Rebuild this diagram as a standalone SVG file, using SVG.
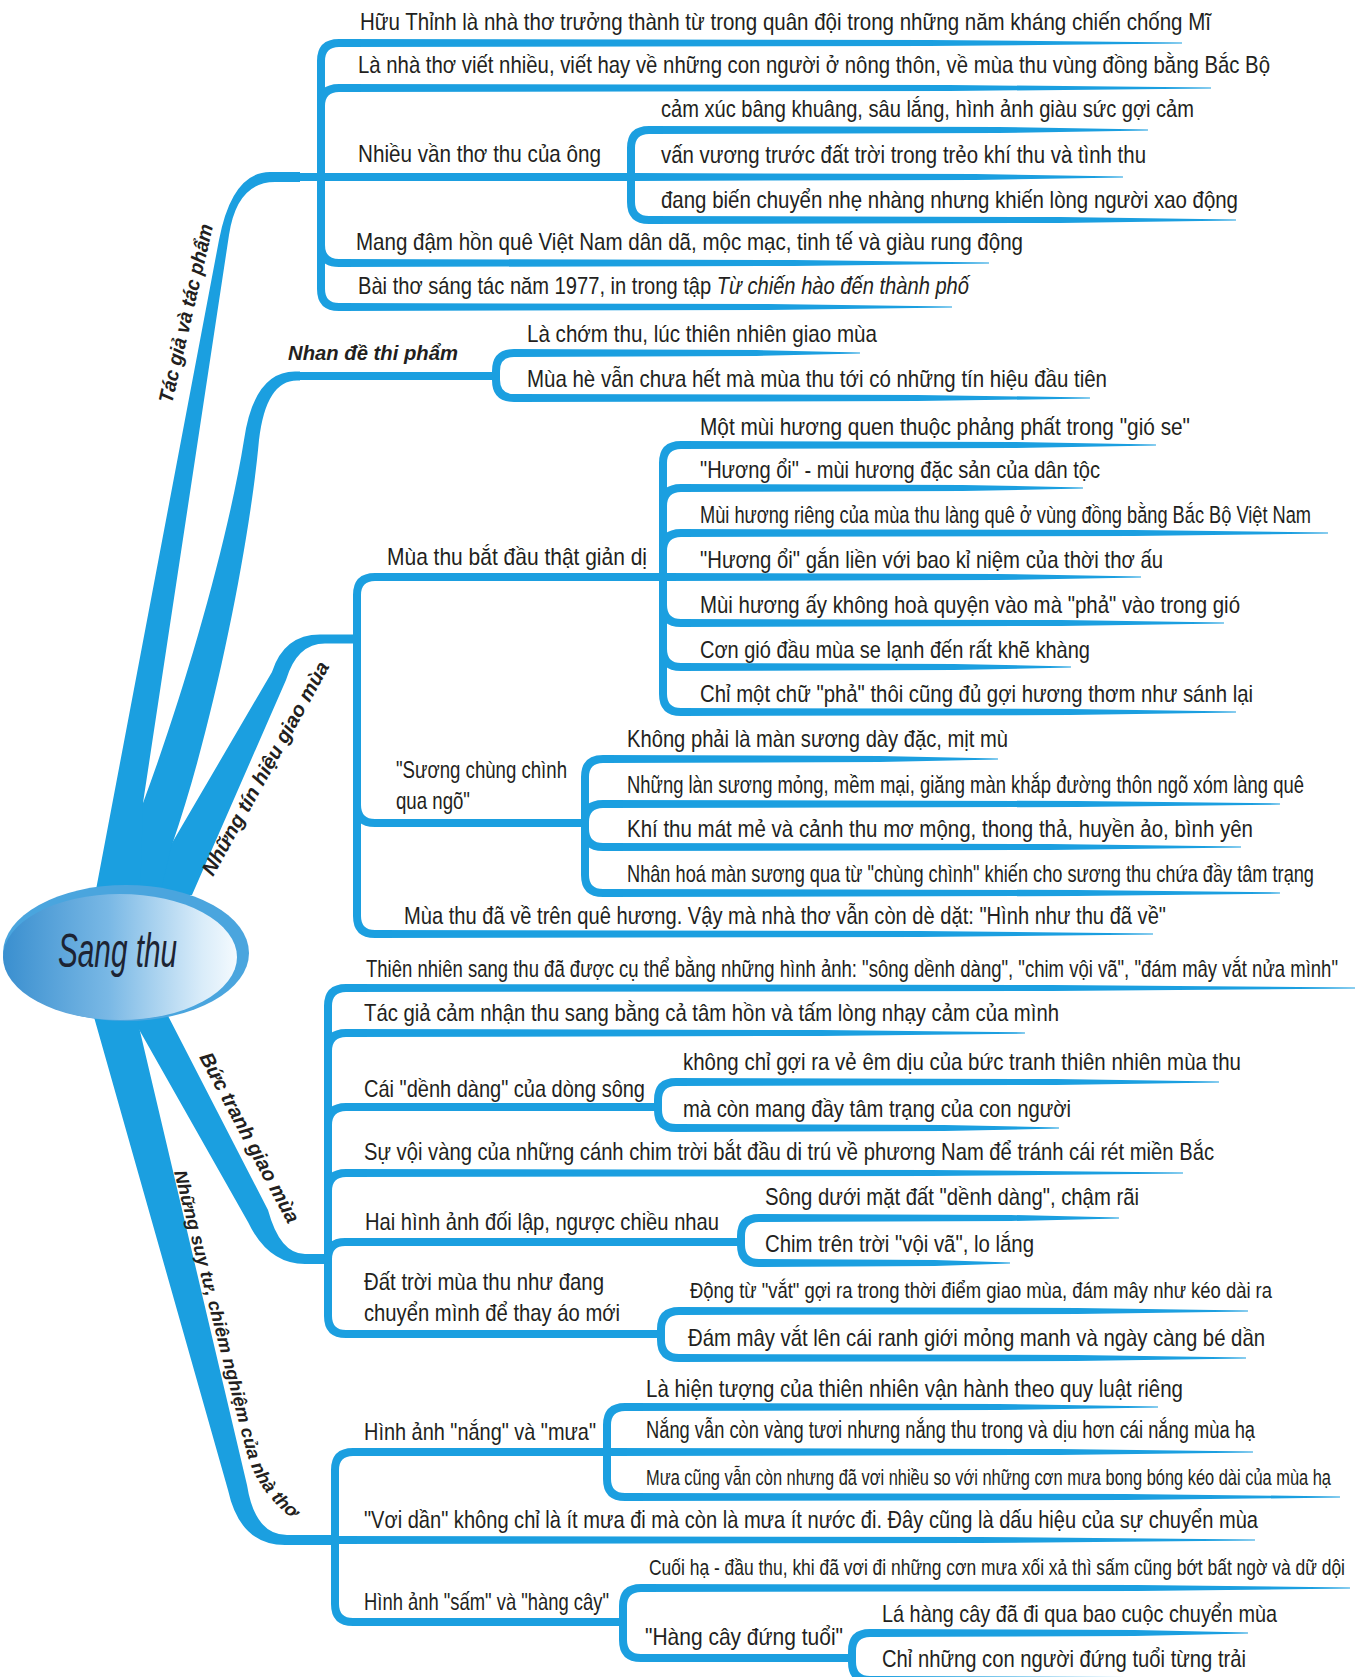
<svg xmlns="http://www.w3.org/2000/svg" width="1361" height="1677" viewBox="0 0 1361 1677">
<defs>
<style>
.t{font-family:'Liberation Sans',Arial,sans-serif;font-size:20px;fill:#231f20}
.f195{font-size:19.5px}
.f19{font-size:19px}
.f185{font-size:18.5px}
.f18{font-size:18px}
.f175{font-size:17.5px}
.f17{font-size:17px}
.f165{font-size:16.5px}
.lb{font-family:'Liberation Sans',Arial,sans-serif;font-size:18px;font-weight:bold;font-style:italic;fill:#231f20}
.ct{font-family:'Liberation Sans',Arial,sans-serif;font-size:38px;font-style:italic;fill:#1d2433}
.br{fill:none;stroke:#1b9fe0;stroke-width:8}
.bn{fill:#1b9fe0}
.ul{fill:#1b9fe0}
</style>
<path id="tp" d="M0,-4 L0.7,-3 L1,-0.6 L1,0.6 L0.7,3 L0,4 Z"/>
<linearGradient id="eg" x1="0" y1="0" x2="1" y2="0">
<stop offset="0" stop-color="#3a8fcf"/>
<stop offset="0.45" stop-color="#79b8e5"/>
<stop offset="0.85" stop-color="#d9ecf9"/>
<stop offset="1" stop-color="#f4fafe"/>
</linearGradient>
</defs>
<rect width="1361" height="1677" fill="#ffffff"/>

<g id="connectors">
<g id="branches" class="bn">
<path d="M95,895 L219,240 Q232,172 270,172 H300 V182 H275 Q237,182 229,235 L143,803 L150,900 Z"/>
<path d="M140,900 L143,803 C185,690 228,540 244,440 Q254,371.5 295,371.5 H300 V380.5 H297 Q266,380.5 259,440 C250,540 215,720 172,845 L180,900 Z"/>
<path d="M172,843 L272,672 Q284,634.5 320,634.5 H357 V643.5 H325 Q297,643.5 286,680 L192,895 L160,895 Z"/>
<path d="M128,1010 L248,1222 Q268,1264 305,1264 H328 V1254 H305 Q280,1254 268,1210 L165,1010 Z"/>
<path d="M92,1010 L228,1490 Q240,1545 285,1545 H335 V1535 H287 Q255,1535 247,1485 L135,1010 Z"/>
</g>
<g id="brackets" class="br">
<path d="M295,177 H631"/>
<path d="M321,177 V61 Q321,43 339,43"/>
<path d="M321,177 V106 Q321,88 339,88"/>
<path d="M321,177 V245 Q321,263 339,263"/>
<path d="M321,177 V289 Q321,307 339,307"/>
<path d="M631,177 V148 Q631,130 649,130"/>
<path d="M631,177 V202 Q631,220 649,220"/>
<path d="M295,376 H496"/>
<path d="M496,376 V371 Q496,353 514,353"/>
<path d="M496,376 V380 Q496,398 514,398"/>
<path d="M357,639 V595 Q357,577 375,577 H663"/>
<path d="M357,639 V805 Q357,823 375,823 H585"/>
<path d="M357,639 V916 Q357,934 375,934"/>
<path d="M663,577 V463 Q663,445 681,445"/>
<path d="M663,577 V506 Q663,488 681,488"/>
<path d="M663,577 V551 Q663,533 681,533"/>
<path d="M663,577 V605 Q663,623 681,623"/>
<path d="M663,577 V649 Q663,667 681,667"/>
<path d="M663,577 V694 Q663,712 681,712"/>
<path d="M585,823 V777 Q585,759 603,759"/>
<path d="M585,823 V822 Q585,804 603,804"/>
<path d="M585,823 V829 Q585,847 603,847"/>
<path d="M585,823 V875 Q585,893 603,893"/>
<path d="M328,1259 V1006 Q328,988 346,988"/>
<path d="M328,1259 V1051 Q328,1033 346,1033"/>
<path d="M328,1259 V1125 Q328,1107 346,1107 H658"/>
<path d="M328,1259 V1191 Q328,1173 346,1173"/>
<path d="M328,1259 Q328,1242 345,1242 H741"/>
<path d="M328,1259 V1316 Q328,1334 346,1334 H661"/>
<path d="M658,1107 V1100 Q658,1082 676,1082"/>
<path d="M658,1107 V1110 Q658,1128 676,1128"/>
<path d="M741,1242 V1236 Q741,1218 759,1218"/>
<path d="M741,1242 V1245 Q741,1263 759,1263"/>
<path d="M661,1334 V1329 Q661,1311 679,1311"/>
<path d="M661,1334 V1340 Q661,1358 679,1358"/>
<path d="M335,1540 V1470 Q335,1452 353,1452 H607"/>
<path d="M335,1540 V1604 Q335,1622 353,1622 H623"/>
<path d="M607,1452 V1425 Q607,1407 625,1407"/>
<path d="M607,1452 V1479 Q607,1497 625,1497"/>
<path d="M623,1622 V1606 Q623,1588 641,1588"/>
<path d="M623,1622 V1640 Q623,1658 641,1658 H852"/>
<path d="M852,1658 V1651 Q852,1633 870,1633"/>
<path d="M852,1658 V1662 Q852,1680 870,1680"/>
</g>
<g id="underlines" class="ul">
<use href="#tp" transform="translate(339,43) scale(843,1)"/>
<use href="#tp" transform="translate(339,88) scale(872,1)"/>
<use href="#tp" transform="translate(339,263) scale(650,1)"/>
<use href="#tp" transform="translate(339,307) scale(613,1)"/>
<use href="#tp" transform="translate(649,130) scale(499,1)"/>
<use href="#tp" transform="translate(631,177) scale(492,1)"/>
<use href="#tp" transform="translate(649,220) scale(587,1)"/>
<use href="#tp" transform="translate(514,353) scale(346,1)"/>
<use href="#tp" transform="translate(514,398) scale(576,1)"/>
<use href="#tp" transform="translate(375,934) scale(778,1)"/>
<use href="#tp" transform="translate(681,445) scale(475,1)"/>
<use href="#tp" transform="translate(681,488) scale(402,1)"/>
<use href="#tp" transform="translate(681,533) scale(647,1)"/>
<use href="#tp" transform="translate(663,577) scale(478,1)"/>
<use href="#tp" transform="translate(681,623) scale(543,1)"/>
<use href="#tp" transform="translate(681,667) scale(390,1)"/>
<use href="#tp" transform="translate(681,712) scale(555,1)"/>
<use href="#tp" transform="translate(603,759) scale(395,1)"/>
<use href="#tp" transform="translate(603,804) scale(677,1)"/>
<use href="#tp" transform="translate(603,847) scale(638,1)"/>
<use href="#tp" transform="translate(603,893) scale(677,1)"/>
<use href="#tp" transform="translate(346,988) scale(1009,1)"/>
<use href="#tp" transform="translate(346,1033) scale(679,1)"/>
<use href="#tp" transform="translate(346,1173) scale(837,1)"/>
<use href="#tp" transform="translate(676,1082) scale(543,1)"/>
<use href="#tp" transform="translate(676,1128) scale(383,1)"/>
<use href="#tp" transform="translate(759,1218) scale(360,1)"/>
<use href="#tp" transform="translate(759,1263) scale(251,1)"/>
<use href="#tp" transform="translate(679,1311) scale(569,1)"/>
<use href="#tp" transform="translate(679,1358) scale(567,1)"/>
<use href="#tp" transform="translate(335,1540) scale(920,1)"/>
<use href="#tp" transform="translate(625,1407) scale(533,1)"/>
<use href="#tp" transform="translate(607,1452) scale(646,1)"/>
<use href="#tp" transform="translate(625,1497) scale(715,1)"/>
<use href="#tp" transform="translate(641,1588) scale(709,1)"/>
<use href="#tp" transform="translate(870,1633) scale(378,1)"/>
<use href="#tp" transform="translate(870,1680) scale(370,1)"/>
</g>
</g>

<g id="n-center">
<ellipse cx="126" cy="953" rx="123" ry="68" fill="#4aa5de"/>
<ellipse cx="120" cy="957" rx="117" ry="63" fill="url(#eg)"/>
<text class="ct" transform="translate(58,967) scale(1,1.25)" textLength="119" lengthAdjust="spacingAndGlyphs">Sang thu</text>
</g>

<g id="n-tacgia"><text class="lb" transform="translate(172,404) rotate(-77) scale(1,1.12)" textLength="183" lengthAdjust="spacingAndGlyphs">Tác giả và tác phẩm</text></g>
<g id="n-t1"><text class="t" transform="translate(360,30) scale(1,1.2)" textLength="851" lengthAdjust="spacingAndGlyphs">Hữu Thỉnh là nhà thơ trưởng thành từ trong quân đội trong những năm kháng chiến chống Mĩ</text></g>
<g id="n-t2"><text class="t" transform="translate(358,73) scale(1,1.2)" textLength="912" lengthAdjust="spacingAndGlyphs">Là nhà thơ viết nhiều, viết hay về những con người ở nông thôn, về mùa thu vùng đồng bằng Bắc Bộ</text></g>
<g id="n-t3"><text class="t" transform="translate(358,162) scale(1,1.2)" textLength="243" lengthAdjust="spacingAndGlyphs">Nhiều vần thơ thu của ông</text></g>
<g id="n-t3a"><text class="t" transform="translate(661,117) scale(1,1.2)" textLength="533" lengthAdjust="spacingAndGlyphs">cảm xúc bâng khuâng, sâu lắng, hình ảnh giàu sức gợi cảm</text></g>
<g id="n-t3b"><text class="t f19" transform="translate(661,163) scale(1,1.25)" textLength="485" lengthAdjust="spacingAndGlyphs">vấn vương trước đất trời trong trẻo khí thu và tình thu</text></g>
<g id="n-t3c"><text class="t" transform="translate(661,208) scale(1,1.2)" textLength="577" lengthAdjust="spacingAndGlyphs">đang biến chuyển nhẹ nhàng nhưng khiến lòng người xao động</text></g>
<g id="n-t4"><text class="t" transform="translate(356,250) scale(1,1.2)" textLength="667" lengthAdjust="spacingAndGlyphs">Mang đậm hồn quê Việt Nam dân dã, mộc mạc, tinh tế và giàu rung động</text></g>
<g id="n-t5"><text class="t" transform="translate(358,294) scale(1,1.2)" textLength="611" lengthAdjust="spacingAndGlyphs">Bài thơ sáng tác năm 1977, in trong tập <tspan font-style="italic">Từ chiến hào đến thành phố</tspan></text></g>

<g id="n-nhande"><text class="lb" transform="translate(288,360) scale(1,1.12)" textLength="170" lengthAdjust="spacingAndGlyphs">Nhan đề thi phẩm</text></g>
<g id="n-nd1"><text class="t" transform="translate(527,342) scale(1,1.2)" textLength="350" lengthAdjust="spacingAndGlyphs">Là chớm thu, lúc thiên nhiên giao mùa</text></g>
<g id="n-nd2"><text class="t" transform="translate(527,387) scale(1,1.2)" textLength="580" lengthAdjust="spacingAndGlyphs">Mùa hè vẫn chưa hết mà mùa thu tới có những tín hiệu đầu tiên</text></g>

<g id="n-tinhieu"><text class="lb" transform="translate(213,877) rotate(-61) scale(1,1.12)" textLength="241" lengthAdjust="spacingAndGlyphs">Những tín hiệu giao mùa</text></g>
<g id="n-mt"><text class="t" transform="translate(387,565) scale(1,1.2)" textLength="260" lengthAdjust="spacingAndGlyphs">Mùa thu bắt đầu thật giản dị</text></g>
<g id="n-a1"><text class="t" transform="translate(700,435) scale(1,1.2)" textLength="490" lengthAdjust="spacingAndGlyphs">Một mùi hương quen thuộc phảng phất trong "gió se"</text></g>
<g id="n-a2"><text class="t" transform="translate(700,478) scale(1,1.2)" textLength="400" lengthAdjust="spacingAndGlyphs">"Hương ổi" - mùi hương đặc sản của dân tộc</text></g>
<g id="n-a3"><text class="t f185" transform="translate(700,523) scale(1,1.28)" textLength="611" lengthAdjust="spacingAndGlyphs">Mùi hương riêng của mùa thu làng quê ở vùng đồng bằng Bắc Bộ Việt Nam</text></g>
<g id="n-a4"><text class="t" transform="translate(700,568) scale(1,1.2)" textLength="463" lengthAdjust="spacingAndGlyphs">"Hương ổi" gắn liền với bao kỉ niệm của thời thơ ấu</text></g>
<g id="n-a5"><text class="t" transform="translate(700,613) scale(1,1.2)" textLength="540" lengthAdjust="spacingAndGlyphs">Mùi hương ấy không hoà quyện vào mà "phả" vào trong gió</text></g>
<g id="n-a6"><text class="t" transform="translate(700,658) scale(1,1.2)" textLength="390" lengthAdjust="spacingAndGlyphs">Cơn gió đầu mùa se lạnh đến rất khẽ khàng</text></g>
<g id="n-a7"><text class="t" transform="translate(700,702) scale(1,1.2)" textLength="553" lengthAdjust="spacingAndGlyphs">Chỉ một chữ "phả" thôi cũng đủ gợi hương thơm như sánh lại</text></g>
<g id="n-suong"><text class="t" transform="translate(396,778) scale(1,1.2)" textLength="171" lengthAdjust="spacingAndGlyphs">"Sương chùng chình</text><text class="t" transform="translate(396,809) scale(1,1.2)" textLength="74" lengthAdjust="spacingAndGlyphs">qua ngõ"</text></g>
<g id="n-b1"><text class="t" transform="translate(627,747) scale(1,1.2)" textLength="381" lengthAdjust="spacingAndGlyphs">Không phải là màn sương dày đặc, mịt mù</text></g>
<g id="n-b2"><text class="t f195" transform="translate(627,793) scale(1,1.22)" textLength="677" lengthAdjust="spacingAndGlyphs">Những làn sương mỏng, mềm mại, giăng màn khắp đường thôn ngõ xóm làng quê</text></g>
<g id="n-b3"><text class="t" transform="translate(627,837) scale(1,1.2)" textLength="626" lengthAdjust="spacingAndGlyphs">Khí thu mát mẻ và cảnh thu mơ mộng, thong thả, huyền ảo, bình yên</text></g>
<g id="n-b4"><text class="t f18" transform="translate(627,882) scale(1,1.3)" textLength="687" lengthAdjust="spacingAndGlyphs">Nhân hoá màn sương qua từ "chùng chình" khiến cho sương thu chứa đầy tâm trạng</text></g>
<g id="n-mtv"><text class="t f195" transform="translate(404,924) scale(1,1.22)" textLength="762" lengthAdjust="spacingAndGlyphs">Mùa thu đã về trên quê hương. Vậy mà nhà thơ vẫn còn dè dặt: "Hình như thu đã về"</text></g>

<g id="n-buctranh"><text class="lb" transform="translate(199,1057) rotate(62) scale(1,1.12)" textLength="190" lengthAdjust="spacingAndGlyphs">Bức tranh giao mùa</text></g>
<g id="n-c1"><text class="t f185" transform="translate(366,977) scale(1,1.28)" textLength="972" lengthAdjust="spacingAndGlyphs">Thiên nhiên sang thu đã được cụ thể bằng những hình ảnh: "sông dềnh dàng", "chim vội vã", "đám mây vắt nửa mình"</text></g>
<g id="n-c2"><text class="t" transform="translate(364,1021) scale(1,1.2)" textLength="695" lengthAdjust="spacingAndGlyphs">Tác giả cảm nhận thu sang bằng cả tâm hồn và tấm lòng nhạy cảm của mình</text></g>
<g id="n-c3"><text class="t" transform="translate(364,1097) scale(1,1.2)" textLength="281" lengthAdjust="spacingAndGlyphs">Cái "dềnh dàng" của dòng sông</text></g>
<g id="n-c3a"><text class="t" transform="translate(683,1070) scale(1,1.2)" textLength="558" lengthAdjust="spacingAndGlyphs">không chỉ gợi ra vẻ êm dịu của bức tranh thiên nhiên mùa thu</text></g>
<g id="n-c3b"><text class="t" transform="translate(683,1117) scale(1,1.2)" textLength="388" lengthAdjust="spacingAndGlyphs">mà còn mang đầy tâm trạng của con người</text></g>
<g id="n-c4"><text class="t f195" transform="translate(364,1160) scale(1,1.22)" textLength="850" lengthAdjust="spacingAndGlyphs">Sự vội vàng của những cánh chim trời bắt đầu di trú về phương Nam để tránh cái rét miền Bắc</text></g>
<g id="n-c5"><text class="t" transform="translate(365,1230) scale(1,1.2)" textLength="354" lengthAdjust="spacingAndGlyphs">Hai hình ảnh đối lập, ngược chiều nhau</text></g>
<g id="n-c5a"><text class="t" transform="translate(765,1205) scale(1,1.2)" textLength="374" lengthAdjust="spacingAndGlyphs">Sông dưới mặt đất "dềnh dàng", chậm rãi</text></g>
<g id="n-c5b"><text class="t" transform="translate(765,1252) scale(1,1.2)" textLength="269" lengthAdjust="spacingAndGlyphs">Chim trên trời "vội vã", lo lắng</text></g>
<g id="n-c6"><text class="t" transform="translate(364,1290) scale(1,1.2)" textLength="240" lengthAdjust="spacingAndGlyphs">Đất trời mùa thu như đang</text><text class="t" transform="translate(364,1321) scale(1,1.2)" textLength="256" lengthAdjust="spacingAndGlyphs">chuyển mình để thay áo mới</text></g>
<g id="n-c6a"><text class="t f175" transform="translate(690,1298) scale(1,1.3)" textLength="582" lengthAdjust="spacingAndGlyphs">Động từ "vắt" gợi ra trong thời điểm giao mùa, đám mây như kéo dài ra</text></g>
<g id="n-c6b"><text class="t" transform="translate(688,1346) scale(1,1.2)" textLength="577" lengthAdjust="spacingAndGlyphs">Đám mây vắt lên cái ranh giới mỏng manh và ngày càng bé dần</text></g>

<g id="n-suytu"><path id="sp" d="M174,1172 L246,1450 Q258,1498 306,1528" fill="none"/><text class="lb"><textPath href="#sp" textLength="372" lengthAdjust="spacingAndGlyphs">Những suy tư, chiêm nghiệm của nhà thơ</textPath></text></g>
<g id="n-d1"><text class="t" transform="translate(364,1440) scale(1,1.2)" textLength="232" lengthAdjust="spacingAndGlyphs">Hình ảnh "nắng" và "mưa"</text></g>
<g id="n-d1a"><text class="t f195" transform="translate(646,1397) scale(1,1.22)" textLength="537" lengthAdjust="spacingAndGlyphs">Là hiện tượng của thiên nhiên vận hành theo quy luật riêng</text></g>
<g id="n-d1b"><text class="t f19" transform="translate(646,1438) scale(1,1.25)" textLength="609" lengthAdjust="spacingAndGlyphs">Nắng vẫn còn vàng tươi nhưng nắng thu trong và dịu hơn cái nắng mùa hạ</text></g>
<g id="n-d1c"><text class="t f17" transform="translate(646,1485) scale(1,1.3)" textLength="685" lengthAdjust="spacingAndGlyphs">Mưa cũng vẫn còn nhưng đã vơi nhiều so với những cơn mưa bong bóng kéo dài của mùa hạ</text></g>
<g id="n-d2"><text class="t f195" transform="translate(364,1528) scale(1,1.22)" textLength="894" lengthAdjust="spacingAndGlyphs">"Vơi dần" không chỉ là ít mưa đi mà còn là mưa ít nước đi. Đây cũng là dấu hiệu của sự chuyển mùa</text></g>
<g id="n-d3"><text class="t" transform="translate(364,1610) scale(1,1.2)" textLength="245" lengthAdjust="spacingAndGlyphs">Hình ảnh "sấm" và "hàng cây"</text></g>
<g id="n-d3a"><text class="t f165" transform="translate(649,1575) scale(1,1.35)" textLength="696" lengthAdjust="spacingAndGlyphs">Cuối hạ - đầu thu, khi đã vơi đi những cơn mưa xối xả thì sấm cũng bớt bất ngờ và dữ dội</text></g>
<g id="n-d3b"><text class="t" transform="translate(645,1645) scale(1,1.2)" textLength="198" lengthAdjust="spacingAndGlyphs">"Hàng cây đứng tuổi"</text></g>
<g id="n-d3b1"><text class="t" transform="translate(882,1622) scale(1,1.2)" textLength="395" lengthAdjust="spacingAndGlyphs">Lá hàng cây đã đi qua bao cuộc chuyển mùa</text></g>
<g id="n-d3b2"><text class="t" transform="translate(882,1667) scale(1,1.2)" textLength="364" lengthAdjust="spacingAndGlyphs">Chỉ những con người đứng tuổi từng trải</text></g>
</svg>
